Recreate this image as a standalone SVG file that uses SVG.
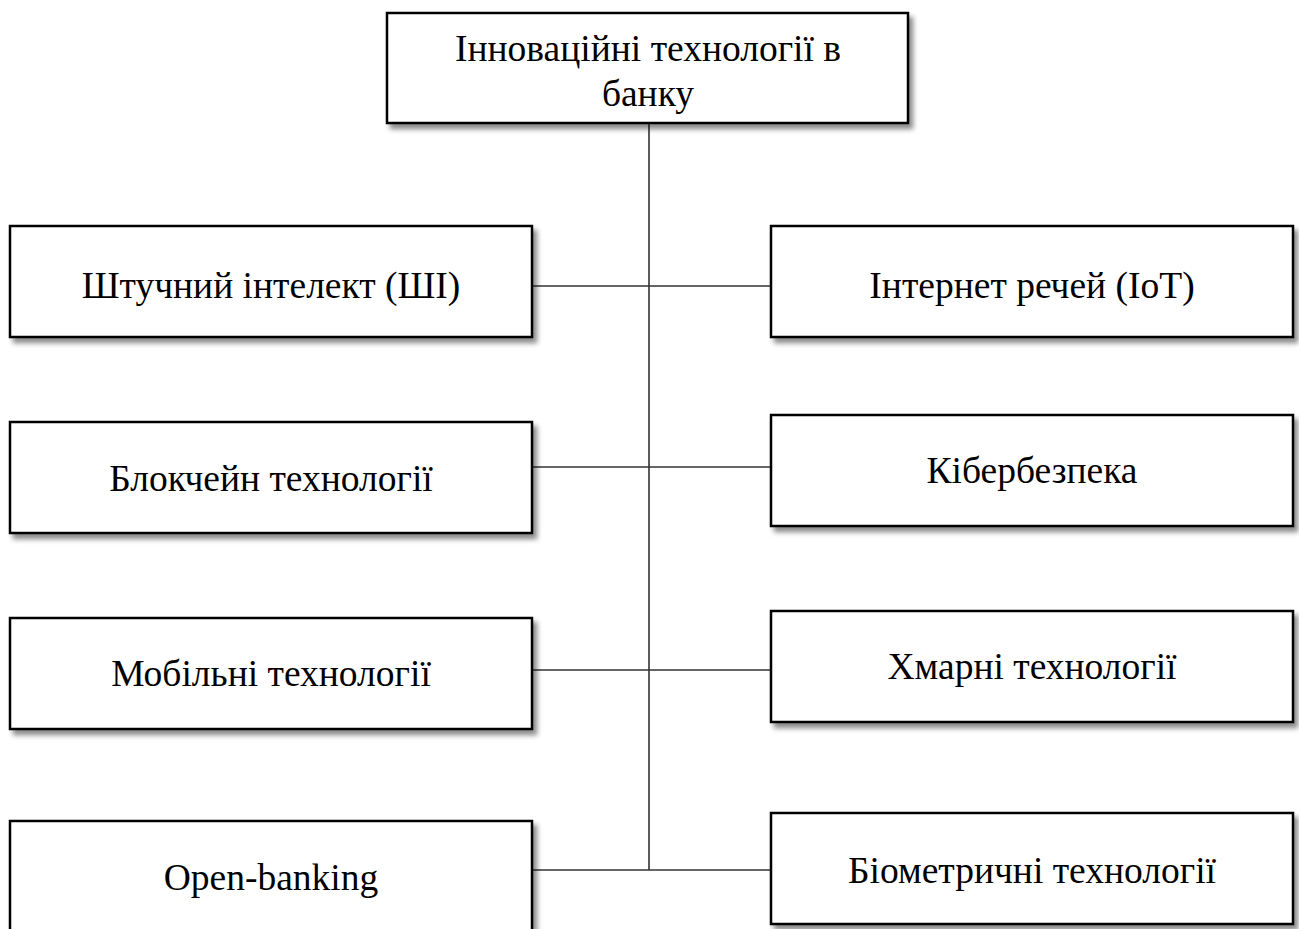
<svg xmlns="http://www.w3.org/2000/svg" width="1299" height="929" viewBox="0 0 1299 929">
<defs>
<filter id="sh" x="-10%" y="-10%" width="125%" height="130%">
<feDropShadow dx="4" dy="5" stdDeviation="2.5" flood-color="#000" flood-opacity="0.45"/>
</filter>
<style>
.box{fill:#fff;stroke:#000;stroke-width:2.5;filter:url(#sh)}
.t{font-family:"Liberation Serif","Times New Roman",serif;font-size:37.5px;fill:#000;text-anchor:middle}
.c{stroke:#333;stroke-width:1.6;fill:none}
</style>
</defs>
<rect width="1299" height="929" fill="#fff"/>
<g id="connectors">
<line class="c" x1="649" y1="124" x2="649" y2="870"/>
<line class="c" x1="532" y1="286" x2="771" y2="286"/>
<line class="c" x1="532" y1="467" x2="771" y2="467"/>
<line class="c" x1="532" y1="670" x2="771" y2="670"/>
<line class="c" x1="532" y1="870" x2="771" y2="870"/>
</g>
<g id="root">
<rect class="box" x="387" y="13" width="521" height="110"/>
<text class="t" x="648" y="61">Інноваційні технології в</text>
<text class="t" x="648" y="106">банку</text>
</g>
<g id="n-ai">
<rect class="box" x="10" y="226" width="522" height="111"/>
<text class="t" x="271" y="298">Штучний інтелект (ШІ)</text>
</g>
<g id="n-iot">
<rect class="box" x="771" y="226" width="522" height="111"/>
<text class="t" x="1032" y="298">Інтернет речей (IoT)</text>
</g>
<g id="n-blockchain">
<rect class="box" x="10" y="422" width="522" height="111"/>
<text class="t" x="271" y="491">Блокчейн технології</text>
</g>
<g id="n-cyber">
<rect class="box" x="771" y="415" width="522" height="111"/>
<text class="t" x="1032" y="483">Кібербезпека</text>
</g>
<g id="n-mobile">
<rect class="box" x="10" y="618" width="522" height="111"/>
<text class="t" x="271" y="686">Мобільні технології</text>
</g>
<g id="n-cloud">
<rect class="box" x="771" y="611" width="522" height="111"/>
<text class="t" x="1032" y="679">Хмарні технології</text>
</g>
<g id="n-open">
<rect class="box" x="10" y="821" width="522" height="120"/>
<text class="t" x="271" y="890">Open-banking</text>
</g>
<g id="n-bio">
<rect class="box" x="771" y="813" width="522" height="111"/>
<text class="t" x="1032" y="883">Біометричні технології</text>
</g>
</svg>
